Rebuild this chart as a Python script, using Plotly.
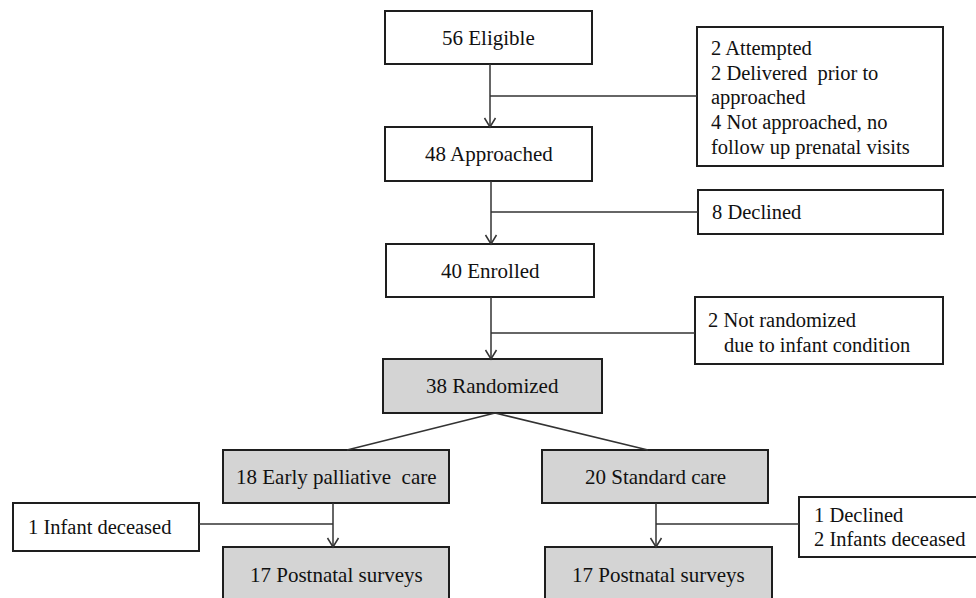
import plotly.graph_objects as go

# ---- data (text content of the flow chart) ----
stage_counts = [56, 48, 40, 38, 18, 20, 17, 17]
stage_names = ["Eligible", "Approached", "Enrolled", "Randomized",
               "Early palliative\u00a0 care", "Standard care",
               "Postnatal surveys", "Postnatal surveys"]
stage_gray = [False, False, False, True, True, True, True, True]

excluded_lines = [
    ["2 Attempted", "2 Delivered\u00a0 prior to", "approached",
     "4 Not approached, no", "follow up prenatal visits"],
    ["8 Declined"],
    ["2 Not randomized", "due to infant condition"],
    ["1 Infant deceased"],
    ["1 Declined", "2 Infants deceased"],
]

# ---- layout geometry (pixels, y down) ----
W, H = 976, 598
stage_boxes = [  # x0, y0, x1, y1
    (385, 11, 592, 64),
    (385, 127, 592, 181),
    (386, 244, 594, 297),
    (383, 359, 602, 413),
    (223, 450, 449, 503),
    (542, 450, 768, 503),
    (223, 547, 449, 602),
    (545, 547, 772, 602),
]
side_boxes = [
    (697, 27, 943, 166),
    (698, 190, 943, 234),
    (695, 297, 943, 364),
    (13, 503, 199, 551),
    (799, 497, 990, 557),
]
side_text_x = [[709] * 5, [710], [706, 722], [26], [812, 812]]
side_text_y = [[48, 73, 97.5, 122.5, 147.5], [212], [320, 345], [527], [515, 539]]
# arrows: (x, y_from, y_to, branch_y, side_box_edge_x)
arrows = [
    (490, 64, 127, 96, 697),
    (491, 181, 244, 212, 698),
    (491, 297, 359, 333, 695),
    (333, 503, 547, 524, 199),
    (656, 503, 547, 524, 799),
]
diag_start = (495, 413)
diag_ends = [(347, 450), (648, 450)]

LINE_C = "#333333"
BOX_C = "#1e1e1e"
GRAY = "#d4d4d4"
FONT = "Liberation Serif, Times New Roman, serif"
FS_MAIN = 21
FS_SIDE = 20.5

fig = go.Figure()
shapes = []
annotations = []

for (x0, y0, x1, y1), gray, n, name in zip(stage_boxes, stage_gray, stage_counts, stage_names):
    shapes.append(dict(type="rect", xref="x", yref="y", x0=x0, y0=y0, x1=x1, y1=y1,
                       line=dict(color=BOX_C, width=2),
                       fillcolor=GRAY if gray else "white", layer="below"))
    annotations.append(dict(x=(x0 + x1) / 2, y=(y0 + y1) / 2 if y1 < 600 else 575,
                            xref="x", yref="y", text=f"{n} {name}", showarrow=False,
                            xanchor="center", yanchor="middle",
                            font=dict(family=FONT, size=FS_MAIN, color="#111111")))

for (x0, y0, x1, y1), lines, xs, ys in zip(side_boxes, excluded_lines, side_text_x, side_text_y):
    shapes.append(dict(type="rect", xref="x", yref="y", x0=x0, y0=y0, x1=x1, y1=y1,
                       line=dict(color=BOX_C, width=2), fillcolor="white", layer="below"))
    for t, tx, ty in zip(lines, xs, ys):
        annotations.append(dict(x=tx, y=ty, xref="x", yref="y", text=t, showarrow=False,
                                xanchor="left", yanchor="middle",
                                font=dict(family=FONT, size=FS_SIDE, color="#111111")))

for x, ya, yb, by, ex in arrows:
    shapes.append(dict(type="line", xref="x", yref="y", x0=x, y0=ya, x1=x, y1=yb,
                       line=dict(color=LINE_C, width=1.5)))
    shapes.append(dict(type="line", xref="x", yref="y", x0=x, y0=by, x1=ex, y1=by,
                       line=dict(color=LINE_C, width=1.5)))
    shapes.append(dict(type="path", xref="x", yref="y",
                       path=f"M {x-5.5},{yb-9} L {x},{yb} L {x+5.5},{yb-9}",
                       line=dict(color=LINE_C, width=1.5)))

for ex, ey in diag_ends:
    shapes.append(dict(type="line", xref="x", yref="y", x0=diag_start[0], y0=diag_start[1],
                       x1=ex, y1=ey, line=dict(color=LINE_C, width=1.5)))

fig.update_layout(
    width=W, height=H,
    margin=dict(l=0, r=0, t=0, b=0),
    paper_bgcolor="white", plot_bgcolor="white",
    xaxis=dict(range=[0, W], visible=False, fixedrange=True),
    yaxis=dict(range=[H, 0], visible=False, fixedrange=True),
    shapes=shapes, annotations=annotations, showlegend=False,
)

fig.write_html("out.html", config={"displayModeBar": False},
               post_script="document.body.style.margin='0';document.body.style.overflow='hidden';")
